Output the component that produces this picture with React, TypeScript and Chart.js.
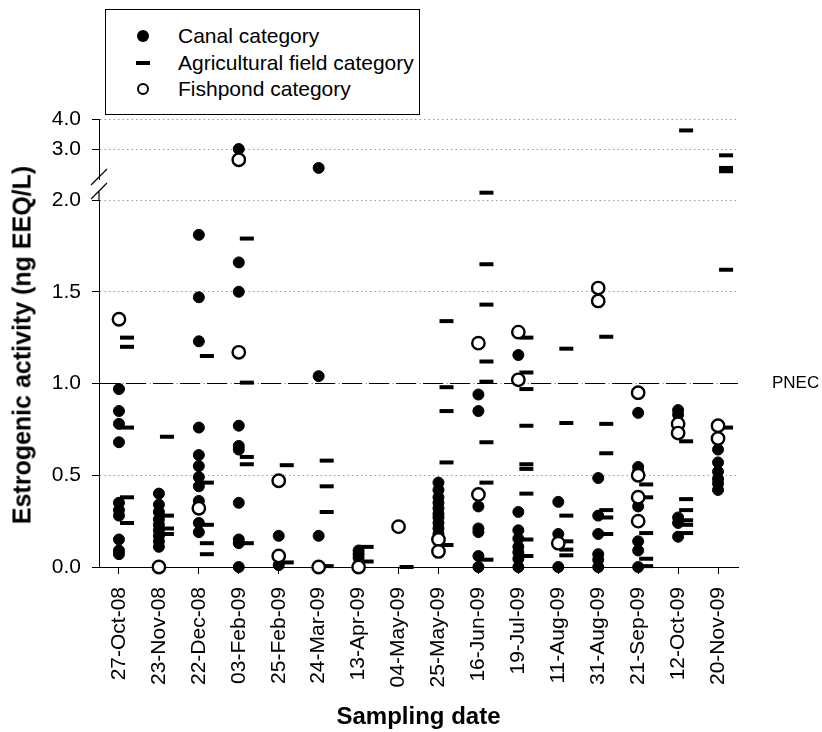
import React, { useEffect, useRef } from 'react';
import { Chart, registerables } from 'chart.js';

Chart.register(...registerables);

const FONT = "'Liberation Sans', Arial, Helvetica, sans-serif";

const dates = [
  '27-Oct-08', '23-Nov-08', '22-Dec-08', '03-Feb-09', '25-Feb-09', '24-Mar-09',
  '13-Apr-09', '04-May-09', '25-May-09', '16-Jun-09', '19-Jul-09', '11-Aug-09',
  '31-Aug-09', '21-Sep-09', '12-Oct-09', '20-Nov-09',
];

// values per sampling date (ng EEQ/L)
const canal: number[][] = [
  [0.97, 0.85, 0.78, 0.68, 0.35, 0.31, 0.28, 0.15, 0.09, 0.07],
  [0.40, 0.34, 0.30, 0.26, 0.23, 0.20, 0.17, 0.14, 0.11],
  [1.81, 1.47, 1.23, 0.76, 0.61, 0.55, 0.49, 0.44, 0.36, 0.24, 0.19],
  [3.0, 1.66, 1.50, 0.77, 0.66, 0.64, 0.35, 0.15, 0.13, 0.0],
  [0.17, 0.01],
  [2.37, 1.04, 0.17],
  [0.09, 0.07, 0.05],
  [],
  [0.46, 0.42, 0.38, 0.35, 0.32, 0.29, 0.27, 0.24, 0.21, 0.18],
  [0.94, 0.85, 0.33, 0.21, 0.19, 0.06, 0.0],
  [1.155, 0.30, 0.20, 0.155, 0.11, 0.08, 0.045, 0.0],
  [0.355, 0.18, 0.0],
  [0.485, 0.28, 0.18, 0.07, 0.04, 0.0],
  [0.84, 0.545, 0.52, 0.33, 0.14, 0.09, 0.0],
  [0.855, 0.83, 0.79, 0.27, 0.24, 0.165],
  [0.64, 0.57, 0.52, 0.48, 0.455, 0.42],
];

const agricultural: number[][] = [
  [1.25, 1.20, 0.76, 0.38, 0.24],
  [0.71, 0.28, 0.21, 0.18],
  [1.15, 0.46, 0.23, 0.13, 0.07],
  [1.79, 1.005, 0.60, 0.56, 0.13],
  [0.555, 0.025],
  [0.58, 0.44, 0.30, 0.005],
  [0.11, 0.03],
  [0.0],
  [1.34, 0.98, 0.85, 0.57, 0.12],
  [2.04, 1.65, 1.43, 1.12, 1.01, 0.68, 0.46, 0.04],
  [1.25, 1.06, 0.97, 0.77, 0.56, 0.535, 0.40, 0.15, 0.06],
  [1.19, 0.785, 0.28, 0.14, 0.095, 0.064],
  [1.255, 0.78, 0.62, 0.31, 0.27, 0.18],
  [0.45, 0.38, 0.185, 0.045, 0.005],
  [3.62, 0.685, 0.37, 0.31, 0.255, 0.23, 0.185],
  [2.79, 2.37, 2.26, 1.62, 0.76],
];

const fishpond: number[][] = [
  [1.35],
  [0.0],
  [0.32],
  [2.64, 1.17],
  [0.47, 0.06],
  [0.0],
  [0.0],
  [0.22],
  [0.15, 0.085],
  [1.22, 0.395],
  [1.28, 1.02],
  [0.13],
  [1.52, 1.45],
  [0.95, 0.50, 0.38, 0.25],
  [0.78, 0.73],
  [0.77, 0.70],
];

const lowerTicks = [0, 0.5, 1.0, 1.5, 2.0];
const upperTicks = [3.0, 4.0];
const PNEC = 1.0;
const BREAK_AT = 2.2;

function build(series: number[][], top: boolean) {
  const pts: { x: string; y: number }[] = [];
  series.forEach((vals, i) =>
    vals.forEach((v) => {
      if ((v > BREAK_AT) === top) pts.push({ x: dates[i], y: v });
    })
  );
  return pts;
}

function dashImage() {
  const c = document.createElement('canvas');
  c.width = 32;
  c.height = 6;
  const g = c.getContext('2d')!;
  g.fillStyle = '#000';
  g.fillRect(17, 1, 14, 4);
  return c;
}

export default function App() {
  const ref = useRef<HTMLCanvasElement>(null);

  useEffect(() => {
    if (!ref.current) return;
    const dash = dashImage();

    const canalStyle = {
      pointStyle: 'circle' as const,
      pointRadius: 5.5,
      pointBackgroundColor: '#000',
      pointBorderColor: '#000',
      pointBorderWidth: 1,
      showLine: false,
      clip: false as const,
      order: 3,
    };
    const agriStyle = {
      pointStyle: dash as any,
      pointRadius: 8,
      pointBackgroundColor: '#000',
      pointBorderColor: '#000',
      showLine: false,
      clip: false as const,
      order: 2,
    };
    const fishStyle = {
      pointStyle: 'circle' as const,
      pointRadius: 6.2,
      pointBackgroundColor: '#fff',
      pointBorderColor: '#000',
      pointBorderWidth: 2.4,
      showLine: false,
      clip: false as const,
      order: 1,
    };

    const yGrid = {
      color: '#9a9a9a',
      lineWidth: 1,
      tickLength: 7,
      tickColor: '#000',
      tickWidth: 1,
      tickBorderDash: [],
    };
    const yBorder = { display: true, color: '#000', width: 1, dash: [1.5, 3] };
    const tickFont = { family: FONT, size: 21 };
    const fixWidth = (s: any) => {
      s.width = 99;
    };

    const overlay = {
      id: 'pnecAndBreak',
      beforeDatasetsDraw(chart: any) {
        const { ctx, chartArea, scales } = chart;
        const y = scales.y.getPixelForValue(PNEC);
        ctx.save();
        ctx.strokeStyle = '#000';
        ctx.lineWidth = 1.2;
        ctx.setLineDash([20, 7]);
        ctx.beginPath();
        ctx.moveTo(chartArea.left, y);
        ctx.lineTo(chartArea.right, y);
        ctx.stroke();
        ctx.restore();
      },
      afterDraw(chart: any) {
        const { ctx, chartArea, scales } = chart;
        const y = scales.y.getPixelForValue(PNEC);
        ctx.save();
        ctx.fillStyle = '#000';
        ctx.font = `17px ${FONT}`;
        ctx.textBaseline = 'middle';
        ctx.textAlign = 'left';
        ctx.fillText('PNEC', chartArea.right + 34, y);

        // axis break marks
        const x = chartArea.left;
        const tb = scales.yTop.bottom;
        const lt = scales.y.top;
        ctx.strokeStyle = '#000';
        ctx.lineWidth = 1.2;
        ctx.setLineDash([]);
        ctx.beginPath();
        ctx.moveTo(x, lt);
        ctx.lineTo(x, lt - 9);
        ctx.moveTo(x - 8, tb - 2 + 8);
        ctx.lineTo(x + 8, tb - 2 - 8);
        ctx.moveTo(x - 8, lt - 9 + 8);
        ctx.lineTo(x + 8, lt - 9 - 8);
        ctx.stroke();
        ctx.restore();
      },
    };

    const chart = new Chart(ref.current, {
      type: 'line',
      data: {
        labels: dates,
        datasets: [
          { label: 'Canal category', data: build(canal, false), yAxisID: 'y', ...canalStyle },
          { label: 'Agricultural field category', data: build(agricultural, false), yAxisID: 'y', ...agriStyle },
          { label: 'Fishpond category', data: build(fishpond, false), yAxisID: 'y', ...fishStyle },
          { label: 'Canal category (upper)', data: build(canal, true), yAxisID: 'yTop', ...canalStyle },
          { label: 'Agricultural field category (upper)', data: build(agricultural, true), yAxisID: 'yTop', ...agriStyle },
          { label: 'Fishpond category (upper)', data: build(fishpond, true), yAxisID: 'yTop', ...fishStyle },
        ],
      } as any,
      plugins: [overlay],
      options: {
        responsive: false,
        animation: false,
        events: [],
        layout: { padding: { top: 119, right: 84, left: 0, bottom: 0 } },
        plugins: { legend: { display: false }, tooltip: { enabled: false } },
        scales: {
          x: {
            type: 'category',
            offset: true,
            grid: { drawOnChartArea: false, drawTicks: true, tickLength: 7, color: '#000', tickColor: '#000' },
            border: { display: true, color: '#000', width: 1 },
            ticks: {
              minRotation: 90,
              maxRotation: 90,
              autoSkip: false,
              padding: 13,
              color: '#000',
              font: tickFont,
            },
            title: {
              display: true,
              text: 'Sampling date',
              color: '#000',
              font: { family: FONT, size: 24, weight: 'bold' },
              padding: { top: 0, bottom: 0 },
            },
            afterFit: (s: any) => {
              s.height = 165;
            },
          },
          yTop: {
            type: 'linear',
            position: 'left',
            stack: 'yaxes',
            stackWeight: 60,
            weight: 3,
            min: 2,
            max: 4,
            grid: yGrid,
            border: yBorder,
            ticks: {
              stepSize: 1,
              padding: 11,
              color: '#000',
              font: tickFont,
              callback: (v: any) => Number(v).toFixed(1),
            },
            afterBuildTicks: (s: any) => {
              s.ticks = upperTicks.map((value) => ({ value }));
            },
            afterFit: fixWidth,
          },
          yGap: {
            type: 'linear',
            position: 'left',
            stack: 'yaxes',
            stackWeight: 21,
            weight: 2,
            grid: { display: false },
            border: { display: false },
            ticks: { display: false },
            afterFit: fixWidth,
          },
          y: {
            type: 'linear',
            position: 'left',
            stack: 'yaxes',
            stackWeight: 367,
            weight: 1,
            min: 0,
            max: 2,
            grid: yGrid,
            border: yBorder,
            ticks: {
              stepSize: 0.5,
              padding: 11,
              color: '#000',
              font: tickFont,
              callback: (v: any) => Number(v).toFixed(1),
            },
            afterBuildTicks: (s: any) => {
              s.ticks = lowerTicks.map((value) => ({ value }));
            },
            afterFit: fixWidth,
          },
        },
      } as any,
    });

    return () => chart.destroy();
  }, []);

  const rowText: React.CSSProperties = {
    position: 'absolute',
    left: 72,
    fontSize: 21,
    lineHeight: '24px',
    transform: 'translateY(-50%)',
    whiteSpace: 'nowrap',
    color: '#000',
  };

  return (
    <div
      style={{
        position: 'absolute',
        left: 0,
        top: 0,
        width: 822,
        height: 732,
        fontFamily: FONT,
        background: '#fff',
      }}
    >
      <canvas ref={ref} width={822} height={732} style={{ width: 822, height: 732, display: 'block' }} />

      <div
        style={{
          position: 'absolute',
          left: 105,
          top: 9,
          width: 315,
          height: 106,
          border: '1px solid #000',
          boxSizing: 'border-box',
          background: '#fff',
        }}
      >
        <div style={{ position: 'absolute', left: 31, top: 20, width: 12, height: 12, borderRadius: '50%', background: '#000' }} />
        <div style={{ ...rowText, top: 26 }}>Canal category</div>
        <div style={{ position: 'absolute', left: 30, top: 51, width: 14, height: 4, background: '#000' }} />
        <div style={{ ...rowText, top: 53 }}>Agricultural field category</div>
        <div
          style={{
            position: 'absolute',
            left: 31,
            top: 73,
            width: 12,
            height: 12,
            borderRadius: '50%',
            border: '2.4px solid #000',
            boxSizing: 'border-box',
            background: '#fff',
          }}
        />
        <div style={{ ...rowText, top: 79 }}>Fishpond category</div>
      </div>

      <div
        style={{
          position: 'absolute',
          left: 22,
          top: 345,
          transform: 'translate(-50%, -50%) rotate(-90deg)',
          whiteSpace: 'nowrap',
          fontSize: 25,
          fontWeight: 'bold',
          color: '#000',
        }}
      >
        Estrogenic activity (ng EEQ/L)
      </div>
    </div>
  );
}
